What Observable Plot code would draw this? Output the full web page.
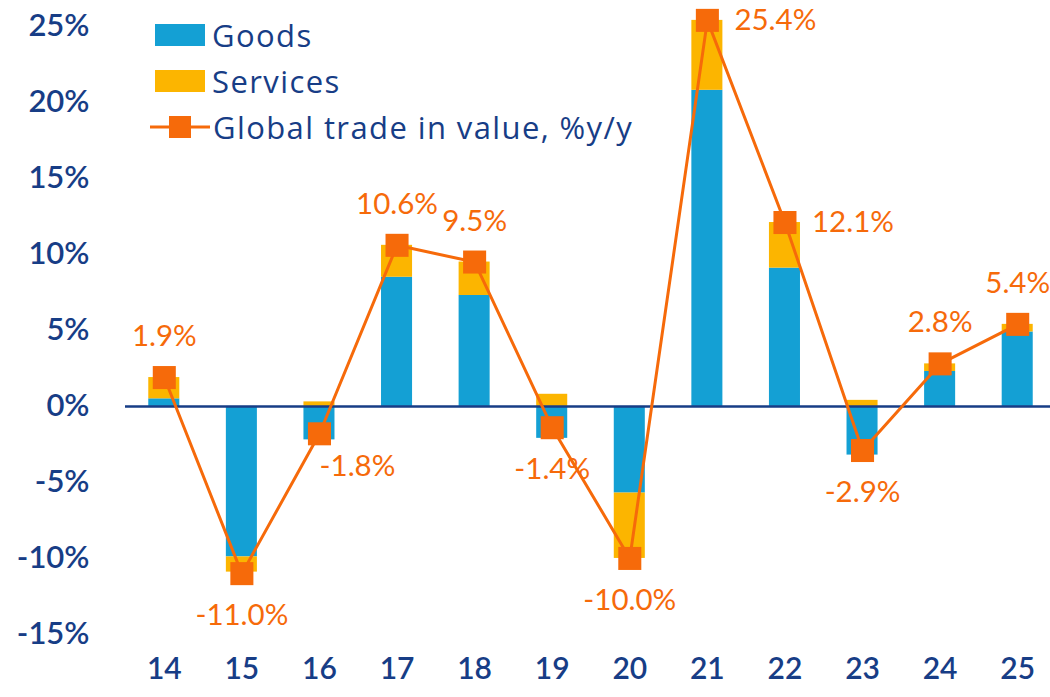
<!DOCTYPE html>
<html><head><meta charset="utf-8">
<script src="https://cdn.jsdelivr.net/npm/d3@7"></script>
<script src="https://cdn.jsdelivr.net/npm/@observablehq/plot@0.6"></script>
<style>
body{margin:0;background:#fff;font-family:Lato,sans-serif}
#wrap{position:relative;width:1050px;height:697px}
.legend{position:absolute;left:155px;top:12px;color:#173d86;font-family:"Open Sans",sans-serif;font-size:31px;letter-spacing:1.4px;line-height:46px}
.row{display:flex;align-items:center;height:46px}
.sw{width:50px;height:22px;margin-right:7px}
svg.lg{margin-right:3px;margin-left:-5px}
</style></head><body><div id="wrap"></div>
<script>
const years = ["14","15","16","17","18","19","20","21","22","23","24","25"];
const goods = [0.5,-9.9,-2.2,8.5,7.3,-2.1,-5.7,20.8,9.1,-3.2,2.3,4.9];
const services = [1.4,-1.0,0.3,2.1,2.2,0.8,-4.3,4.6,3.0,0.4,0.5,0.5];
const total = [1.9,-11.0,-1.8,10.6,9.5,-1.4,-10.0,25.4,12.1,-2.9,2.8,5.4];
const yTicks = [-15,-10,-5,0,5,10,15,20,25];
const seriesNames = ["Goods","Services","Global trade in value, %y/y"];

const navy = "#173d86", blue = "#14a0d4", yellow = "#fcb500", orange = "#f66a0a";

const bars = [];
years.forEach((y,i)=>{ bars.push({year:y,type:seriesNames[0],value:goods[i]}); bars.push({year:y,type:seriesNames[1],value:services[i]}); });
const line = years.map((y,i)=>({year:y,total:total[i],label:total[i].toFixed(1)+"%"}));

// label placement (style config)
const place = {"14":"above","15":"below","16":"rightBelow","17":"above","18":"above","19":"below","20":"below","21":"right","22":"right","23":"below","24":"above","25":"above"};
const pick = p => line.filter(d=>place[d.year]===p);
const lblStyle = {x:"year", y:"total", text:"label", fill:orange, fontSize:29.5, fontFamily:"Lato"};

const plot = Plot.plot({
  width:1050, height:697,
  marginLeft:125, marginRight:0, marginTop:10, marginBottom:50,
  style:{fontFamily:"Lato, sans-serif", color:navy, background:"white", overflow:"visible"},
  x:{domain:years, range:[125,1056], paddingInner:0.6, paddingOuter:0.3, round:false},
  y:{domain:[-15.86,26.05]},
  color:{domain:seriesNames.slice(0,2), range:[blue,yellow]},
  marks:[
    Plot.barY(bars,{x:"year", y:"value", fill:"type"}),
    Plot.ruleY([0],{stroke:navy, strokeWidth:2.5}),
    Plot.axisY({ticks:yTicks, tickFormat:d=>d+"%", tickSize:0, tickPadding:36, fontSize:31, fontWeight:600, label:null}),
    Plot.axisX({tickSize:0, tickPadding:10, fontSize:30, fontWeight:600, label:null}),
    Plot.line(line,{x:"year", y:"total", stroke:orange, strokeWidth:3}),
    Plot.dot(line,{x:"year", y:"total", symbol:"square", r:13, fill:orange}),
    Plot.text(pick("above"),{...lblStyle, dy:-41}),
    Plot.text(pick("below"),{...lblStyle, dy:42}),
    Plot.text(pick("rightBelow"),{...lblStyle, dx:38, dy:33}),
    Plot.text(pick("right"),{...lblStyle, dx:27, textAnchor:"start"})
  ]
});
const wrap = document.getElementById("wrap");
wrap.appendChild(plot);
const lg = document.createElement("div");
lg.className="legend";
lg.innerHTML = `
<div class="row"><div class="sw" style="background:${blue}"></div><span>${seriesNames[0]}</span></div>
<div class="row"><div class="sw" style="background:${yellow}"></div><span>${seriesNames[1]}</span></div>
<div class="row"><svg class="lg" width="60" height="30"><line x1="0" y1="15" x2="60" y2="15" stroke="${orange}" stroke-width="3"/><rect x="19" y="4" width="22" height="22" fill="${orange}"/></svg><span>${seriesNames[2]}</span></div>`;
wrap.appendChild(lg);
</script></body></html>
